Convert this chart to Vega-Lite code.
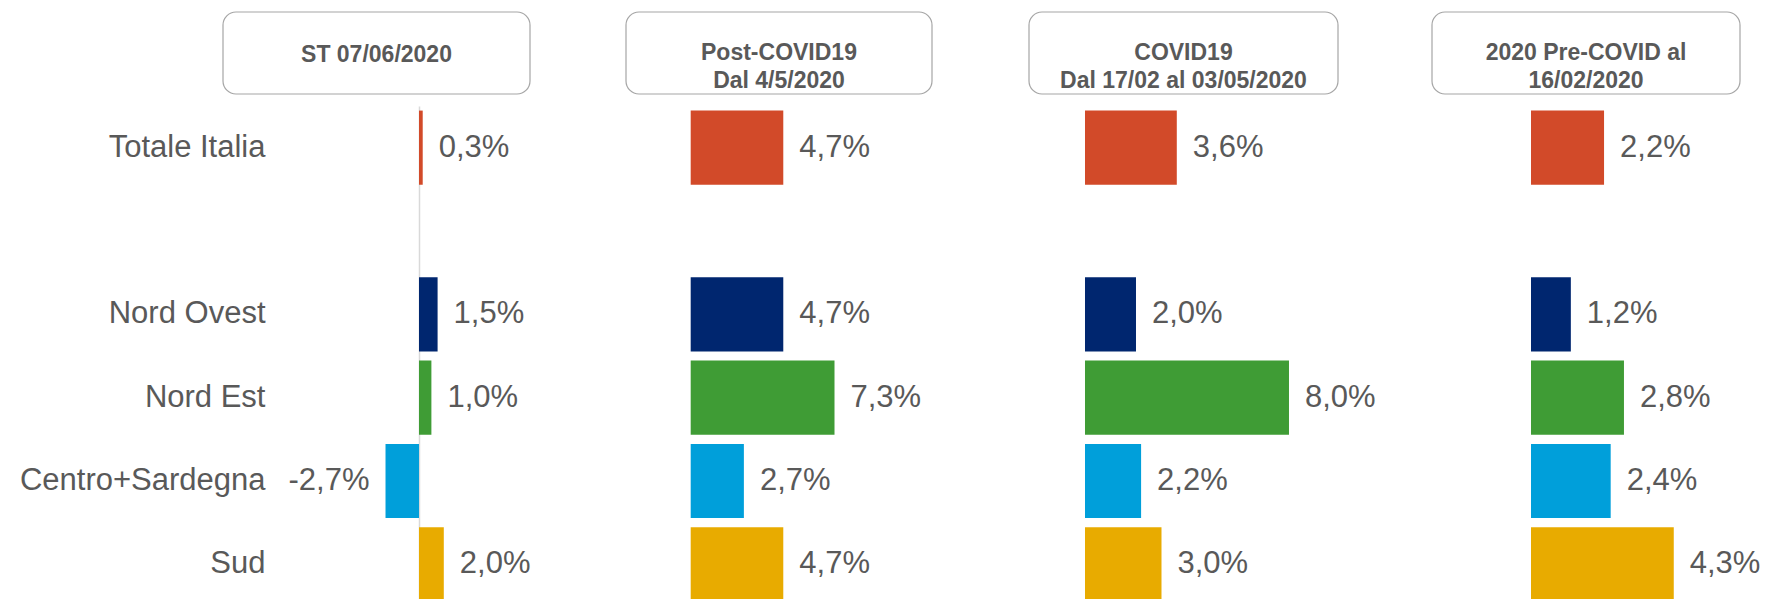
{
  "$schema": "https://vega.github.io/schema/vega-lite/v6.json",
  "padding": {"left": 19, "top": 11, "right": 0, "bottom": 0},
  "config": {
    "view": {"stroke": null},
    "font": "Liberation Sans",
    "locale": {"number": {"decimal": ",", "thousands": ".", "grouping": [3], "currency": ["", " €"], "minus": "-"}}
  },
  "datasets": {
    "values": [
      {"panel": "p1", "region": "Totale Italia", "v": 0.003},
      {"panel": "p1", "region": "Nord Ovest", "v": 0.015},
      {"panel": "p1", "region": "Nord Est", "v": 0.010},
      {"panel": "p1", "region": "Centro+Sardegna", "v": -0.027},
      {"panel": "p1", "region": "Sud", "v": 0.020},
      {"panel": "p2", "region": "Totale Italia", "v": 0.047},
      {"panel": "p2", "region": "Nord Ovest", "v": 0.047},
      {"panel": "p2", "region": "Nord Est", "v": 0.073},
      {"panel": "p2", "region": "Centro+Sardegna", "v": 0.027},
      {"panel": "p2", "region": "Sud", "v": 0.047},
      {"panel": "p3", "region": "Totale Italia", "v": 0.036},
      {"panel": "p3", "region": "Nord Ovest", "v": 0.020},
      {"panel": "p3", "region": "Nord Est", "v": 0.080},
      {"panel": "p3", "region": "Centro+Sardegna", "v": 0.022},
      {"panel": "p3", "region": "Sud", "v": 0.030},
      {"panel": "p4", "region": "Totale Italia", "v": 0.022},
      {"panel": "p4", "region": "Nord Ovest", "v": 0.012},
      {"panel": "p4", "region": "Nord Est", "v": 0.028},
      {"panel": "p4", "region": "Centro+Sardegna", "v": 0.024},
      {"panel": "p4", "region": "Sud", "v": 0.043}
    ],
    "headers": [
      {"panel": "p1", "header": "ST 07/06/2020"},
      {"panel": "p2", "header": "Post-COVID19\nDal 4/5/2020"},
      {"panel": "p3", "header": "COVID19\nDal 17/02 al 03/05/2020"},
      {"panel": "p4", "header": "2020 Pre-COVID  al\n16/02/2020"}
    ]
  },
  "hconcat": [
    {
      "spacing": 12, "bounds": "flush",
      "vconcat": [
        {
          "width": 307, "height": 82,
          "data": {"name": "headers"},
          "transform": [{"filter": "datum.panel == 'p1'"}],
          "layer": [
            {"mark": {"type": "rect", "fill": "white", "stroke": "#a6a6a6", "strokeWidth": 1.2, "cornerRadius": 13}, "encoding": {}},
            {"mark": {"type": "text", "fontWeight": "bold", "fontSize": 23, "color": "#595959", "lineBreak": "\n", "lineHeight": 28, "baseline": "middle", "dy": 2}, "encoding": {"text": {"field": "header"}}}
          ]
        },
        {
          "width": 307, "height": 500,
          "data": {"name": "values"},
          "transform": [{"filter": "datum.panel == 'p1'"}],
          "layer": [
            {
              "mark": {"type": "bar"},
              "encoding": {
                "y": {"field": "region", "type": "nominal", "title": null,
                  "scale": {"domain": ["Totale Italia", "", "Nord Ovest", "Nord Est", "Centro+Sardegna", "Sud"], "paddingInner": 0.11, "paddingOuter": 0.055},
                  "axis": {"domain": false, "ticks": false, "labelPadding": 0, "offset": -42, "labelFontSize": 31, "labelColor": "#595959", "labelLimit": 500}},
                "x": {"field": "v", "type": "quantitative", "title": null, "scale": {"domain": [-0.15806, 0.08952], "nice": false, "zero": true},
                  "axis": {"values": [0], "grid": true, "gridColor": "#d9d9d9", "gridWidth": 1.5, "labels": false, "ticks": false, "domain": false}},
                "x2": {"datum": 0},
                "color": {"field": "region", "type": "nominal", "scale": {"domain": ["Totale Italia", "Nord Ovest", "Nord Est", "Centro+Sardegna", "Sud"], "range": ["#d24a29", "#00266f", "#3f9c35", "#009fda", "#e8ab00"]}, "legend": null}
              }
            },
            {
              "transform": [{"filter": "datum.v >= 0"}],
              "mark": {"type": "text", "align": "left", "baseline": "middle", "dx": 16, "fontSize": 31, "color": "#595959"},
              "encoding": {
                "y": {"field": "region", "type": "nominal"},
                "x": {"field": "v", "type": "quantitative"},
                "text": {"field": "v", "type": "quantitative", "format": ".1%"}
              }
            },
            {
              "transform": [{"filter": "datum.v < 0"}],
              "mark": {"type": "text", "align": "right", "baseline": "middle", "dx": -16, "fontSize": 31, "color": "#595959"},
              "encoding": {
                "y": {"field": "region", "type": "nominal"},
                "x": {"field": "v", "type": "quantitative"},
                "text": {"field": "v", "type": "quantitative", "format": ".1%"}
              }
            }
          ]
        }
      ]
    },
    {
      "spacing": 12, "bounds": "flush",
      "vconcat": [
        {
          "width": 306, "height": 82,
          "data": {"name": "headers"},
          "transform": [{"filter": "datum.panel == 'p2'"}],
          "layer": [
            {"mark": {"type": "rect", "fill": "white", "stroke": "#a6a6a6", "strokeWidth": 1.2, "cornerRadius": 13}, "encoding": {}},
            {"mark": {"type": "text", "fontWeight": "bold", "fontSize": 23, "color": "#595959", "lineBreak": "\n", "lineHeight": 28, "baseline": "middle"}, "encoding": {"text": {"field": "header"}}}
          ]
        },
        {
          "width": 306, "height": 500,
          "data": {"name": "values"},
          "transform": [{"filter": "datum.panel == 'p2'"}],
          "layer": [
            {
              "mark": {"type": "bar"},
              "encoding": {
                "y": {"field": "region", "type": "nominal", "title": null,
                  "scale": {"domain": ["Totale Italia", "", "Nord Ovest", "Nord Est", "Centro+Sardegna", "Sud"], "paddingInner": 0.11, "paddingOuter": 0.055},
                  "axis": null},
                "x": {"field": "v", "type": "quantitative", "scale": {"domain": [-0.03284, 0.12249], "nice": false, "zero": true}, "axis": null},
                "x2": {"datum": 0},
                "color": {"field": "region", "type": "nominal", "scale": {"domain": ["Totale Italia", "Nord Ovest", "Nord Est", "Centro+Sardegna", "Sud"], "range": ["#d24a29", "#00266f", "#3f9c35", "#009fda", "#e8ab00"]}, "legend": null}
              }
            },
            {
              "mark": {"type": "text", "align": "left", "baseline": "middle", "dx": 16, "fontSize": 31, "color": "#595959"},
              "encoding": {
                "y": {"field": "region", "type": "nominal"},
                "x": {"field": "v", "type": "quantitative"},
                "text": {"field": "v", "type": "quantitative", "format": ".1%"}
              }
            }
          ]
        }
      ]
    },
    {
      "spacing": 12, "bounds": "flush",
      "vconcat": [
        {
          "width": 309, "height": 82,
          "data": {"name": "headers"},
          "transform": [{"filter": "datum.panel == 'p3'"}],
          "layer": [
            {"mark": {"type": "rect", "fill": "white", "stroke": "#a6a6a6", "strokeWidth": 1.2, "cornerRadius": 13}, "encoding": {}},
            {"mark": {"type": "text", "fontWeight": "bold", "fontSize": 23, "color": "#595959", "lineBreak": "\n", "lineHeight": 28, "baseline": "middle"}, "encoding": {"text": {"field": "header"}}}
          ]
        },
        {
          "width": 309, "height": 500,
          "data": {"name": "values"},
          "transform": [{"filter": "datum.panel == 'p3'"}],
          "layer": [
            {
              "mark": {"type": "bar"},
              "encoding": {
                "y": {"field": "region", "type": "nominal", "title": null,
                  "scale": {"domain": ["Totale Italia", "", "Nord Ovest", "Nord Est", "Centro+Sardegna", "Sud"], "paddingInner": 0.11, "paddingOuter": 0.055},
                  "axis": null},
                "x": {"field": "v", "type": "quantitative", "scale": {"domain": [-0.02196, 0.09922], "nice": false, "zero": true}, "axis": null},
                "x2": {"datum": 0},
                "color": {"field": "region", "type": "nominal", "scale": {"domain": ["Totale Italia", "Nord Ovest", "Nord Est", "Centro+Sardegna", "Sud"], "range": ["#d24a29", "#00266f", "#3f9c35", "#009fda", "#e8ab00"]}, "legend": null}
              }
            },
            {
              "mark": {"type": "text", "align": "left", "baseline": "middle", "dx": 16, "fontSize": 31, "color": "#595959"},
              "encoding": {
                "y": {"field": "region", "type": "nominal"},
                "x": {"field": "v", "type": "quantitative"},
                "text": {"field": "v", "type": "quantitative", "format": ".1%"}
              }
            }
          ]
        }
      ]
    },
    {
      "spacing": 12, "bounds": "flush",
      "vconcat": [
        {
          "width": 308, "height": 82,
          "data": {"name": "headers"},
          "transform": [{"filter": "datum.panel == 'p4'"}],
          "layer": [
            {"mark": {"type": "rect", "fill": "white", "stroke": "#a6a6a6", "strokeWidth": 1.2, "cornerRadius": 13}, "encoding": {}},
            {"mark": {"type": "text", "fontWeight": "bold", "fontSize": 23, "color": "#595959", "lineBreak": "\n", "lineHeight": 28, "baseline": "middle"}, "encoding": {"text": {"field": "header"}}}
          ]
        },
        {
          "width": 308, "height": 500,
          "data": {"name": "values"},
          "transform": [{"filter": "datum.panel == 'p4'"}],
          "layer": [
            {
              "mark": {"type": "bar"},
              "encoding": {
                "y": {"field": "region", "type": "nominal", "title": null,
                  "scale": {"domain": ["Totale Italia", "", "Nord Ovest", "Nord Est", "Centro+Sardegna", "Sud"], "paddingInner": 0.11, "paddingOuter": 0.055},
                  "axis": null},
                "x": {"field": "v", "type": "quantitative", "scale": {"domain": [-0.02982, 0.06295], "nice": false, "zero": true}, "axis": null},
                "x2": {"datum": 0},
                "color": {"field": "region", "type": "nominal", "scale": {"domain": ["Totale Italia", "Nord Ovest", "Nord Est", "Centro+Sardegna", "Sud"], "range": ["#d24a29", "#00266f", "#3f9c35", "#009fda", "#e8ab00"]}, "legend": null}
              }
            },
            {
              "mark": {"type": "text", "align": "left", "baseline": "middle", "dx": 16, "fontSize": 31, "color": "#595959"},
              "encoding": {
                "y": {"field": "region", "type": "nominal"},
                "x": {"field": "v", "type": "quantitative"},
                "text": {"field": "v", "type": "quantitative", "format": ".1%"}
              }
            }
          ]
        }
      ]
    }
  ],
  "spacing": 403,
  "bounds": "flush"
}
